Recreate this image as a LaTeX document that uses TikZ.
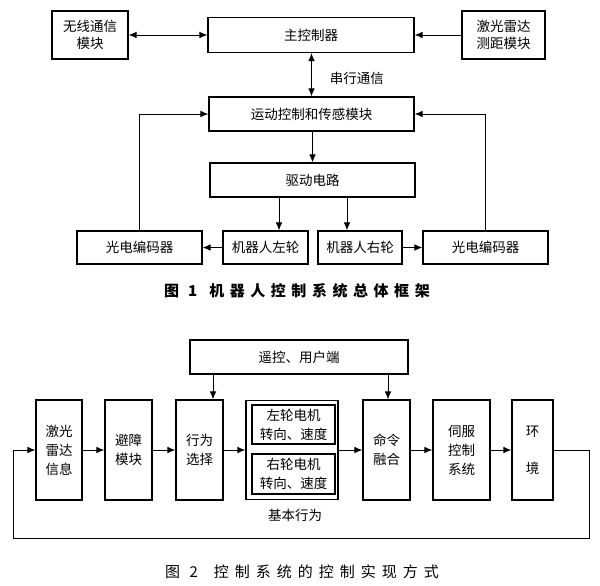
\documentclass[tikz,border=0pt]{standalone}
\usepackage{fontspec}
\setmainfont{Noto Sans CJK SC}
\newfontfamily\capfont[LetterSpace=37]{Noto Sans CJK SC}
\usetikzlibrary{arrows.meta}

\begin{document}
\begin{tikzpicture}[x=1pt, y=-1pt, line width=0.9pt,
        every node/.style={font=\fontsize{13.5}{19}\selectfont},
        box/.style={draw, line width=1.1pt, align=center, inner sep=0pt},
        sz/.style 2 args={minimum width=#1pt, minimum height=#2pt},
        arr/.style={-{Latex[length=8pt, width=6.5pt]}},
        darr/.style={{Latex[length=8pt, width=6.5pt]}-{Latex[length=8pt, width=6.5pt]}}]
    \useasboundingbox (0,0) rectangle (600,586);

    % figure 1
    \node[box, sz={76}{48}, font=\fontsize{13.5}{17}\selectfont] (wx) at (90,35) {无线通信\\模块};
    \node[box, sz={206}{35}] (zk) at (311,35) {主控制器};
    \node[box, sz={83}{48}, font=\fontsize{13.5}{17}\selectfont] (jg) at (503.5,35) {激光雷达\\测距模块};
    \node[box, sz={205}{34}] (yd) at (311.5,114) {运动控制和传感模块};
    \node[box, sz={205}{34}] (qd) at (312.5,180) {驱动电路};
    \node[box, sz={125}{33}] (bmL) at (139.5,247.5) {光电编码器};
    \node[box, sz={85}{33}] (lw) at (265.5,247.5) {机器人左轮};
    \node[box, sz={84}{33}] (rw) at (360,247.5) {机器人右轮};
    \node[box, sz={125}{33}] (bmR) at (485.5,247.5) {光电编码器};
    \node[anchor=west] (cx) at (326,78) {串行通信};

    \draw[darr] (wx) -- (zk);
    \draw[arr] (jg) -- (zk);
    \draw[darr] (zk.south -| yd.north) -- (yd.north);
    \draw[arr] (yd.south -| qd.north) -- (qd.north);
    \draw[arr] ([xshift=13.5pt]lw.north |- qd.south) -- ([xshift=13.5pt]lw.north);
    \draw[arr] ([xshift=-13pt]rw.north |- qd.south) -- ([xshift=-13pt]rw.north);
    \draw[arr] (lw) -- (bmL);
    \draw[arr] (rw) -- (bmR);
    \draw[arr] (bmL.north) |- (yd.west);
    \draw[arr] (bmR.north) |- (yd.east);

    \node (cap1) at (297,291) [font=\capfont\bfseries\fontsize{15}{18}\selectfont] {图 1\hspace{12pt}机器人控制系统总体框架};

    % figure 2
    \node[box, sz={218}{34}] (yk) at (299,357) {遥控、用户端};
    \node[box, sz={46}{100}] (las) at (59,450) {激光\\雷达\\信息};
    \node[box, sz={47}{100}] (bz) at (128.5,450) {避障\\模块};
    \node[box, sz={47}{100}] (xw) at (199.5,450) {行为\\选择};
    \node[box, sz={92}{99}] (jb) at (292,450) {};
    \node[box, sz={83}{39}] (zl) at (293.5,424.5) {左轮电机\\转向、速度};
    \node[box, sz={83}{40}] (yl) at (293.5,474) {右轮电机\\转向、速度};
    \node[box, sz={47}{100}] (ml) at (386.5,450) {命令\\融合};
    \node[box, sz={57}{100}] (sf) at (461.5,450) {伺服\\控制\\系统};
    \node[box, sz={41}{100}] (hj) at (532.5,450) {环\\[18pt]境};
    \node (jbx) at (295,515) {基本行为};
    \coordinate (fbR) at (589,538);
    \coordinate (fbL) at (13,538);

    \foreach \a/\b in {las/bz, bz/xw, xw/jb, jb/ml, ml/sf, sf/hj}
        \draw[arr] (\a.east) -- (\b.west);
    \draw[arr] ([xshift=13.5pt]xw.north |- yk.south) -- ([xshift=13.5pt]xw.north);
    \draw[arr] ([xshift=1.5pt]ml.north |- yk.south) -- ([xshift=1.5pt]ml.north);
    \draw[arr] (hj.east) -| (fbR) -- (fbL) |- (las.west);

    \node (cap2) at (302,572) [font=\capfont\addfontfeature{LetterSpace=40}\fontsize{15}{18}\selectfont] {图 2\hspace{16pt}控制系统的控制实现方式};
\end{tikzpicture}
\end{document}
